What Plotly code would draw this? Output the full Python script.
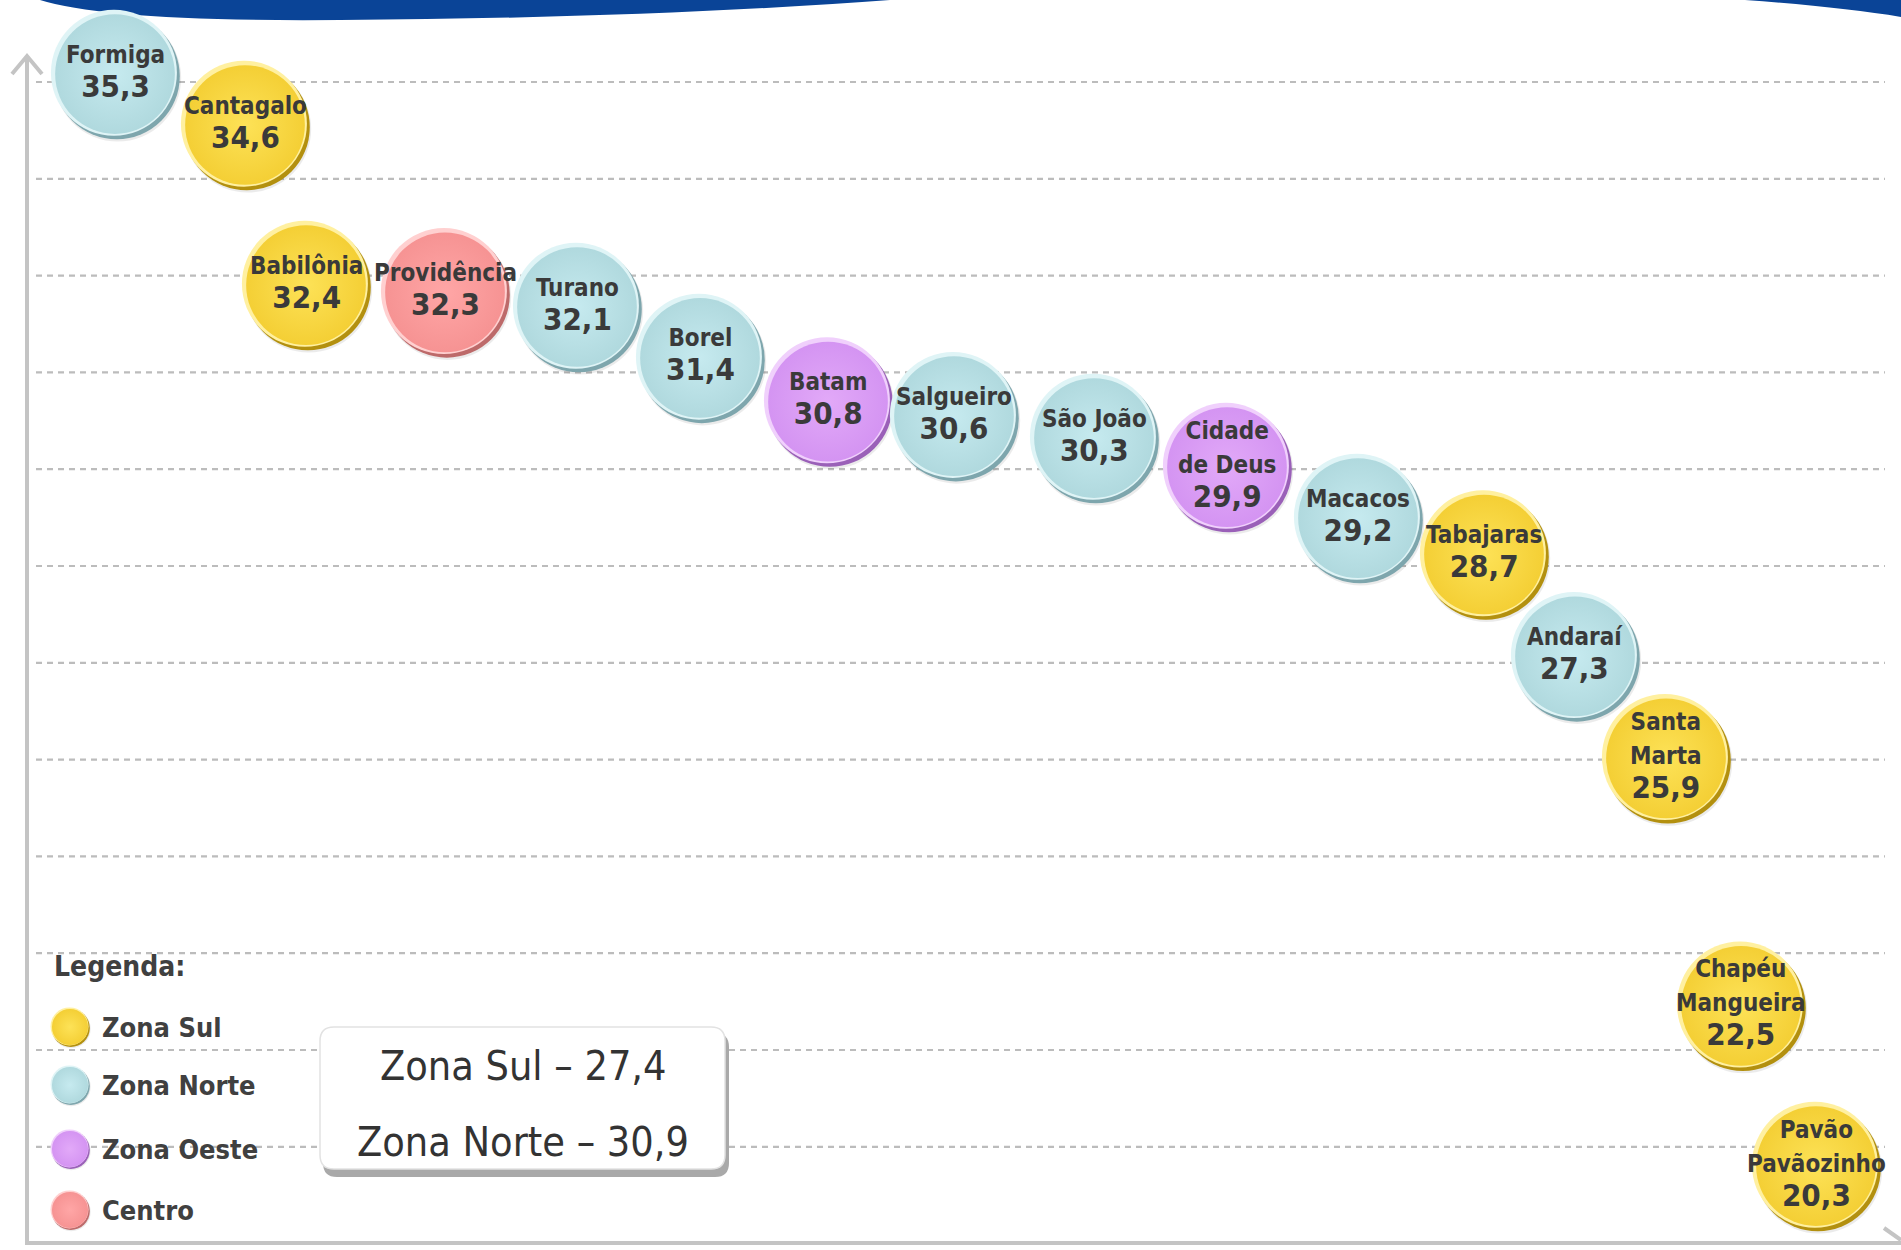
import plotly.graph_objects as go

# favelas (UPP) - idade média
names = ["Formiga", "Cantagalo", "Babilônia", "Providência", "Turano", "Borel",
         "Batam", "Salgueiro", "São João", "Cidade<br>de Deus", "Macacos",
         "Tabajaras", "Andaraí", "Santa<br>Marta", "Chapéu<br>Mangueira",
         "Pavão<br>Pavãozinho"]
values = [35.3, 34.6, 32.4, 32.3, 32.1, 31.4, 30.8, 30.6, 30.3, 29.9, 29.2,
          28.7, 27.3, 25.9, 22.5, 20.3]
zones = ["Norte", "Sul", "Sul", "Centro", "Norte", "Norte", "Oeste", "Norte",
         "Norte", "Oeste", "Norte", "Sul", "Norte", "Sul", "Sul", "Sul"]
# horizontal placement along the chart (hand placed in the original)
x_pos = [115, 245, 306, 445, 577, 700, 828, 954, 1094, 1227, 1358, 1484,
         1575, 1666, 1741, 1816]

legend_zones = ["Sul", "Norte", "Oeste", "Centro"]
legend_labels = ["Zona Sul", "Zona Norte", "Zona Oeste", "Centro"]

W, H = 1901, 1250
PX_UNIT = 72.8                     # pixels per year on the y axis
Y_TOP = 29.6 + 489.0 / PX_UNIT
Y_BOT = Y_TOP - H / PX_UNIT

FONT = "DejaVu Sans Condensed, Liberation Sans Narrow, DejaVu Sans, sans-serif"
TXT = "#3a3a3a"

colors = {
    "Norte": dict(face="#c6eaef", edge="#b0d9de", dark="#7ea6ad", light="#dff4f6"),
    "Sul": dict(face="#fde257", edge="#f4cf35", dark="#b3900f", light="#fff0a0"),
    "Oeste": dict(face="#e2a9f8", edge="#d494f2", dark="#9a60b8", light="#f0d0fc"),
    "Centro": dict(face="#ffa6a6", edge="#f69393", dark="#bd6a6a", light="#ffd0d0"),
}


def fmt(v):
    return ("%.1f" % v).replace(".", ",")


def balls(xs, ys, zone_list, size, dx, dy, yaxis="y"):
    # glossy ball: soft shadow, dark rim (down-right), light rim (up-left), gradient face
    out = []
    dark = [colors[z]["dark"] for z in zone_list]
    light = [colors[z]["light"] for z in zone_list]
    edge = [colors[z]["edge"] for z in zone_list]
    face = [colors[z]["face"] for z in zone_list]
    out.append(go.Scatter(x=[x + dx * 1.5 for x in xs], y=[y + dy * 1.8 for y in ys],
                          mode="markers", yaxis=yaxis, hoverinfo="skip",
                          marker=dict(size=size + 1, color="rgba(0,0,0,0.08)", line=dict(width=0))))
    out.append(go.Scatter(x=[x + dx for x in xs], y=[y + dy for y in ys],
                          mode="markers", yaxis=yaxis, hoverinfo="skip",
                          marker=dict(size=size, color=dark, line=dict(width=0))))
    out.append(go.Scatter(x=[x - dx * 0.6 for x in xs], y=[y - dy * 0.6 for y in ys],
                          mode="markers", yaxis=yaxis, hoverinfo="skip",
                          marker=dict(size=size, color=light, line=dict(width=0))))
    out.append(go.Scatter(x=xs, y=ys, mode="markers", yaxis=yaxis, hoverinfo="skip",
                          marker=dict(size=size * 0.95, color=edge, line=dict(width=0),
                                      gradient=dict(type="radial", color=face))))
    return out


fig = go.Figure()

# bubbles (y in data units)
d = 2.2 / PX_UNIT
for t in balls(x_pos, values, zones, 126, 1.8, -d):
    fig.add_trace(t)

# legend balls (pixel units on hidden axis)
leg_y = [1027, 1085, 1149, 1210]
for t in balls([70] * 4, leg_y, legend_zones, 38, 0.8, 1.0, yaxis="y2"):
    fig.add_trace(t)

# bubble labels
for x, v, n in zip(x_pos, values, names):
    lines = n.split("<br>")
    txt = "<br>".join("<span style='font-size:24px'><b>%s</b></span>" % l for l in lines)
    txt += "<br><span style='font-size:31px'><b>%s</b></span>" % fmt(v)
    fig.add_annotation(x=x, y=v, text=txt, showarrow=False, xanchor="center",
                       yanchor="middle", yshift=2,
                       font=dict(family=FONT, size=26, color=TXT))

# legend text
fig.add_annotation(x=52, y=966, yref="y2", text="<b>Legenda:</b>", showarrow=False,
                   xanchor="left", yanchor="middle",
                   font=dict(family=FONT, size=28, color="#404040"))
for yy, lab in zip(leg_y, legend_labels):
    fig.add_annotation(x=100, y=yy, yref="y2", text="<b>%s</b>" % lab, showarrow=False,
                       xanchor="left", yanchor="middle",
                       font=dict(family=FONT, size=27, color="#404040"))

# averages box
sul = [v for v, z in zip(values, zones) if z == "Sul"]
norte = [v for v, z in zip(values, zones) if z == "Norte"]
avg_lines = ["Zona Sul – " + fmt(sum(sul) / len(sul)),
             "Zona Norte – " + fmt(sum(norte) / len(norte))]


def rounded(x0, y0, x1, y1, r):
    return ("M %f %f L %f %f Q %f %f %f %f L %f %f Q %f %f %f %f L %f %f Q %f %f %f %f "
            "L %f %f Q %f %f %f %f Z" % (
                x0 + r, y0, x1 - r, y0, x1, y0, x1, y0 + r, x1, y1 - r, x1, y1, x1 - r, y1,
                x0 + r, y1, x0, y1, x0, y1 - r, x0, y0 + r, x0, y0, x0 + r, y0))


shapes = []
# dashed grid
for k in range(12):
    gy = 82 + 96.8 * k
    shapes.append(dict(type="line", xref="x", yref="y2", x0=36, x1=1885, y0=gy, y1=gy,
                       line=dict(color="#bcbcbc", width=2.2, dash="6px,5px"), layer="below"))
# axes
ax = dict(color="#c4c4c4", width=4)
shapes.append(dict(type="line", xref="x", yref="y2", x0=27, x1=27, y0=56, y1=1243, line=ax, layer="below"))
shapes.append(dict(type="line", xref="x", yref="y2", x0=25, x1=1901, y0=1243, y1=1243, line=ax, layer="below"))
shapes.append(dict(type="path", xref="x", yref="y2", path="M 12 74 L 27 56 L 42 74", line=ax, layer="below"))
shapes.append(dict(type="path", xref="x", yref="y2", path="M 1884 1228 L 1901 1240", line=ax, layer="below"))
# blue banner at top
shapes.append(dict(type="path", xref="x", yref="y2",
                   path="M 40 0 Q 110 22 340 20 Q 650 18 890 0 Z",
                   fillcolor="#0a4497", line=dict(width=0), layer="below"))
shapes.append(dict(type="path", xref="x", yref="y2",
                   path="M 1745 0 Q 1840 7 1901 17 L 1901 0 Z",
                   fillcolor="#0a4497", line=dict(width=0), layer="below"))
# box with shadow
shapes.append(dict(type="path", xref="x", yref="y2", path=rounded(323, 1033, 729, 1177, 14),
                   fillcolor="#a9a9a9", line=dict(width=0)))
shapes.append(dict(type="path", xref="x", yref="y2", path=rounded(320, 1027, 725, 1169, 14),
                   fillcolor="#ffffff", line=dict(color="#e2e2e2", width=1.5)))

for yy, t in zip([1066, 1142], avg_lines):
    fig.add_annotation(x=523, y=yy, yref="y2", text=t, showarrow=False, xanchor="center",
                       yanchor="middle", font=dict(family=FONT, size=41, color="#333333"))

fig.update_layout(
    width=W, height=H, margin=dict(l=0, r=0, t=0, b=0),
    paper_bgcolor="white", plot_bgcolor="white", showlegend=False,
    shapes=shapes,
    xaxis=dict(range=[0, W], visible=False, fixedrange=True),
    yaxis=dict(range=[Y_BOT, Y_TOP], visible=False, fixedrange=True),
    yaxis2=dict(range=[H, 0], overlaying="y", visible=False, fixedrange=True),
)

fig.write_html("out.html", config=dict(displayModeBar=False),
               post_script="document.body.style.margin='0';document.body.style.overflow='hidden';")
